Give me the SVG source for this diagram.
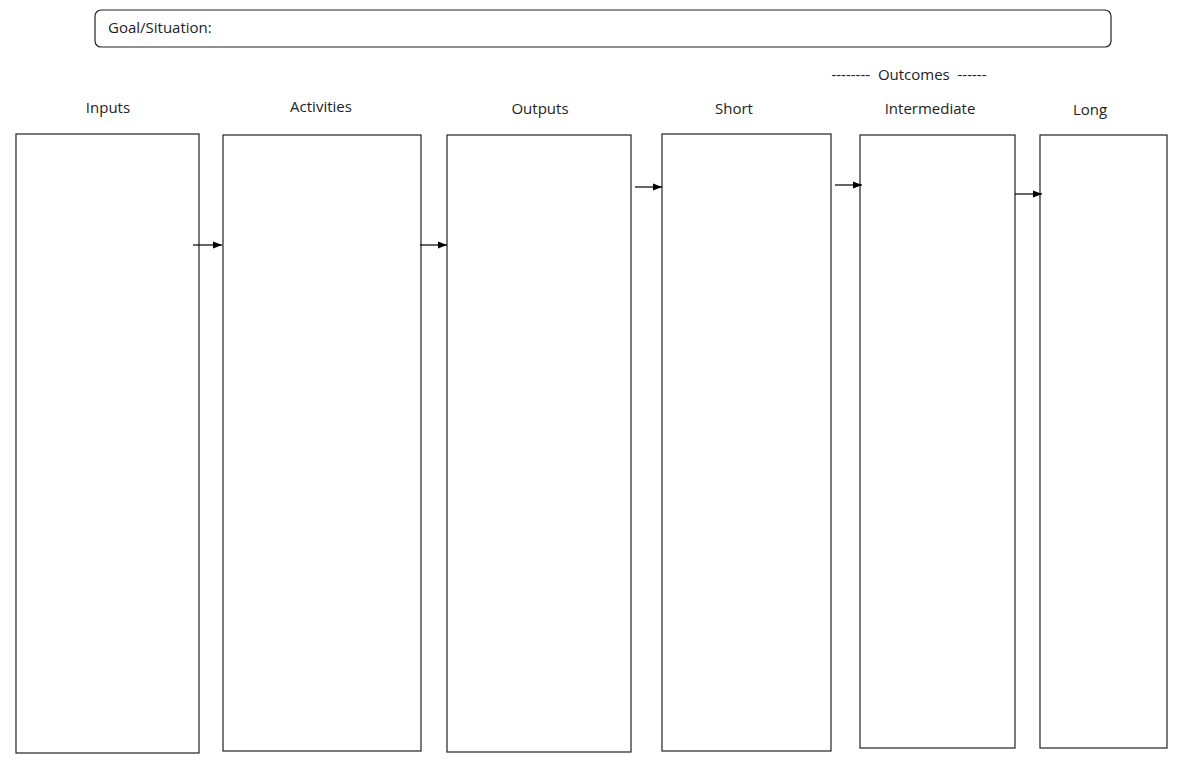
<svg xmlns="http://www.w3.org/2000/svg" width="1185" height="768" viewBox="0 0 1185 768">
<style>
.box{fill:#fff;stroke:#222;stroke-width:1.2}
.lbl{font-family:"Open Sans","Liberation Sans",sans-serif;font-size:15px;fill:#222;text-anchor:middle}
.conn{stroke:#000;stroke-width:1.2;fill:none;marker-end:url(#ah)}
</style>
<defs>
<marker id="ah" viewBox="0 0 10 10" refX="10" refY="5" markerWidth="10" markerHeight="9" markerUnits="userSpaceOnUse" orient="auto">
<path d="M0,1 L10,5 L0,9 z" fill="#000"/>
</marker>
</defs>
<rect width="1185" height="768" fill="#fff"/>
<g id="goal">
<rect class="box" x="95" y="10" width="1016" height="37" rx="6"/>
<text class="lbl" x="108" y="33" style="text-anchor:start">Goal/Situation:</text>
</g>
<text class="lbl" x="909" y="80" xml:space="preserve">--------  Outcomes  ------</text>
<g id="inputs">
<text class="lbl" x="108" y="113">Inputs</text>
<rect class="box" x="16" y="134" width="183" height="619"/>
</g>
<g id="activities">
<text class="lbl" x="321" y="112">Activities</text>
<rect class="box" x="223" y="135" width="198" height="616"/>
</g>
<g id="outputs">
<text class="lbl" x="540" y="114">Outputs</text>
<rect class="box" x="447" y="135" width="184" height="617"/>
</g>
<g id="short">
<text class="lbl" x="734" y="114">Short</text>
<rect class="box" x="662" y="134" width="169" height="617"/>
</g>
<g id="intermediate">
<text class="lbl" x="930" y="114">Intermediate</text>
<rect class="box" x="860" y="135" width="155" height="613"/>
</g>
<g id="long">
<text class="lbl" x="1090" y="115">Long</text>
<rect class="box" x="1040" y="135" width="127" height="613"/>
</g>
<g id="connectors">
<line class="conn" x1="193" y1="245" x2="222" y2="245"/>
<line class="conn" x1="420" y1="245" x2="447" y2="245"/>
<line class="conn" x1="635" y1="187" x2="662" y2="187"/>
<line class="conn" x1="835" y1="185" x2="862" y2="185"/>
<line class="conn" x1="1015" y1="194" x2="1042" y2="194"/>
</g>
</svg>
